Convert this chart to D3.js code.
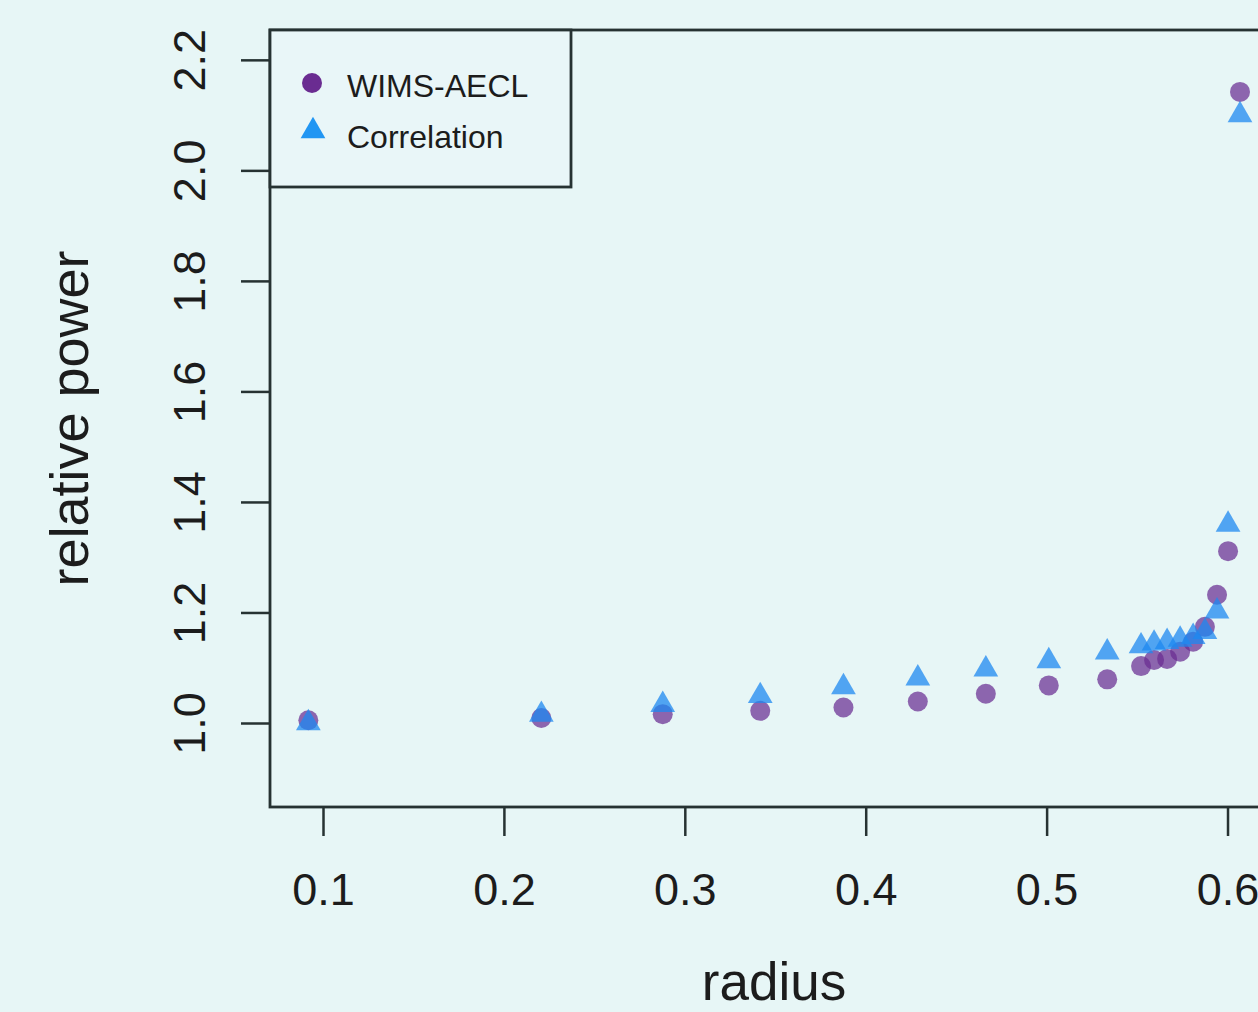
<!DOCTYPE html>
<html>
<head>
    <style>
        body {
            margin: 0;
            background: #e7f6f6;
            font-family: "Liberation Sans", Arial, Helvetica, sans-serif;
        }
        svg text {
            fill: #1c1c1c;
        }
    </style>
</head>
<body>
    <svg id="chart" width="1258" height="1012"></svg>
    <script src="https://cdnjs.cloudflare.com/ajax/libs/d3/7.8.5/d3.min.js"></script>
    <script>
        // values
        const radius = [0.0919, 0.2207, 0.2878, 0.3417, 0.3877, 0.4288, 0.4664, 0.5012, 0.5335,
            0.5522, 0.5594, 0.5666, 0.5738, 0.5810, 0.5875, 0.5942, 0.6003, 0.6069];
        const wimsAecl = [1.005, 1.009, 1.016, 1.022, 1.028, 1.039, 1.053, 1.068, 1.079,
            1.103, 1.114, 1.116, 1.129, 1.147, 1.174, 1.232, 1.311, 2.142];
        const correlation = [1.000, 1.015, 1.033, 1.049, 1.065, 1.081, 1.097, 1.112, 1.128,
            1.139, 1.144, 1.147, 1.151, 1.156, 1.165, 1.202, 1.359, 2.100];
        const xTicks = [0.1, 0.2, 0.3, 0.4, 0.5, 0.6];
        const yTicks = [1.0, 1.2, 1.4, 1.6, 1.8, 2.0, 2.2];
        const seriesNames = ["WIMS-AECL", "Correlation"];

        const ink = "#263232";
        const purple = "#6a2c91";
        const blue = "#1e88f0";

        const svg = d3.select("#chart");

        // plot region (right side runs past the window, like the cropped original)
        const plotL = 270, plotR = 1312, plotT = 30, plotB = 807;

        const x = d3.scaleLinear().domain([0.0707, 0.6467]).range([plotL, plotR]);
        const y = d3.scaleLinear().domain([0.848, 2.254]).range([plotB, plotT]);

        // points
        const pts = radius.map((r, i) => ({ r: r, w: wimsAecl[i], c: correlation[i] }));

        svg.append("g").selectAll("circle")
            .data(pts)
            .enter().append("circle")
            .attr("cx", d => x(d.r))
            .attr("cy", d => y(d.w))
            .attr("r", 10)
            .attr("fill", purple)
            .attr("fill-opacity", 0.72);

        const tri = d3.symbol().type(d3.symbolTriangle).size(265);
        svg.append("g").selectAll("path")
            .data(pts)
            .enter().append("path")
            .attr("d", tri)
            .attr("transform", d => `translate(${x(d.r)},${y(d.c)})`)
            .attr("fill", blue)
            .attr("fill-opacity", 0.75);

        // x axis
        const xAxis = svg.append("g")
            .attr("transform", `translate(0,${plotB})`)
            .call(d3.axisBottom(x).tickValues(xTicks).tickFormat(d3.format(".1f"))
                .tickSizeInner(29).tickSizeOuter(0).tickPadding(37));
        xAxis.select(".domain").remove();
        xAxis.selectAll(".tick line").attr("stroke", ink).attr("stroke-width", 2.5);
        xAxis.selectAll(".tick text")
            .attr("fill", "#1c1c1c")
            .style("font-size", "45px")
            .style("font-family", "'Liberation Sans', Arial, sans-serif");

        // y axis, labels turned like R's default
        const yAxis = svg.append("g")
            .attr("transform", `translate(${plotL},0)`)
            .call(d3.axisLeft(y).tickValues(yTicks).tickFormat(d3.format(".1f"))
                .tickSizeInner(29).tickSizeOuter(0));
        yAxis.select(".domain").remove();
        yAxis.selectAll(".tick line").attr("stroke", ink).attr("stroke-width", 2.5);
        yAxis.selectAll(".tick text")
            .attr("x", null)
            .attr("dy", null)
            .attr("text-anchor", "middle")
            .attr("transform", "translate(-65,0) rotate(-90)")
            .attr("fill", "#1c1c1c")
            .style("font-size", "45px")
            .style("font-family", "'Liberation Sans', Arial, sans-serif");

        // box
        svg.append("rect")
            .attr("x", plotL).attr("y", plotT)
            .attr("width", plotR - plotL).attr("height", plotB - plotT)
            .attr("fill", "none")
            .attr("stroke", ink)
            .attr("stroke-width", 2.8);

        // axis titles
        svg.append("text")
            .attr("x", 774).attr("y", 1000)
            .attr("text-anchor", "middle")
            .style("font-size", "53px")
            .text("radius");

        svg.append("text")
            .attr("transform", `translate(88,${(plotT + plotB) / 2}) rotate(-90)`)
            .attr("text-anchor", "middle")
            .style("font-size", "54px")
            .text("relative power");

        // legend
        const legend = svg.append("g");
        legend.append("rect")
            .attr("x", plotL).attr("y", plotT)
            .attr("width", 301).attr("height", 157)
            .attr("fill", "#e9f6f8")
            .attr("stroke", ink)
            .attr("stroke-width", 2.8);

        legend.append("circle")
            .attr("cx", 312).attr("cy", 83).attr("r", 10)
            .attr("fill", purple);
        legend.append("path")
            .attr("d", tri)
            .attr("transform", "translate(313,131)")
            .attr("fill", "#2196f3");

        legend.selectAll("text.leg")
            .data(seriesNames)
            .enter().append("text")
            .attr("class", "leg")
            .attr("x", 347)
            .attr("y", (d, i) => 97 + i * 51)
            .style("font-size", "32px")
            .text(d => d);
    </script>
</body>
</html>
